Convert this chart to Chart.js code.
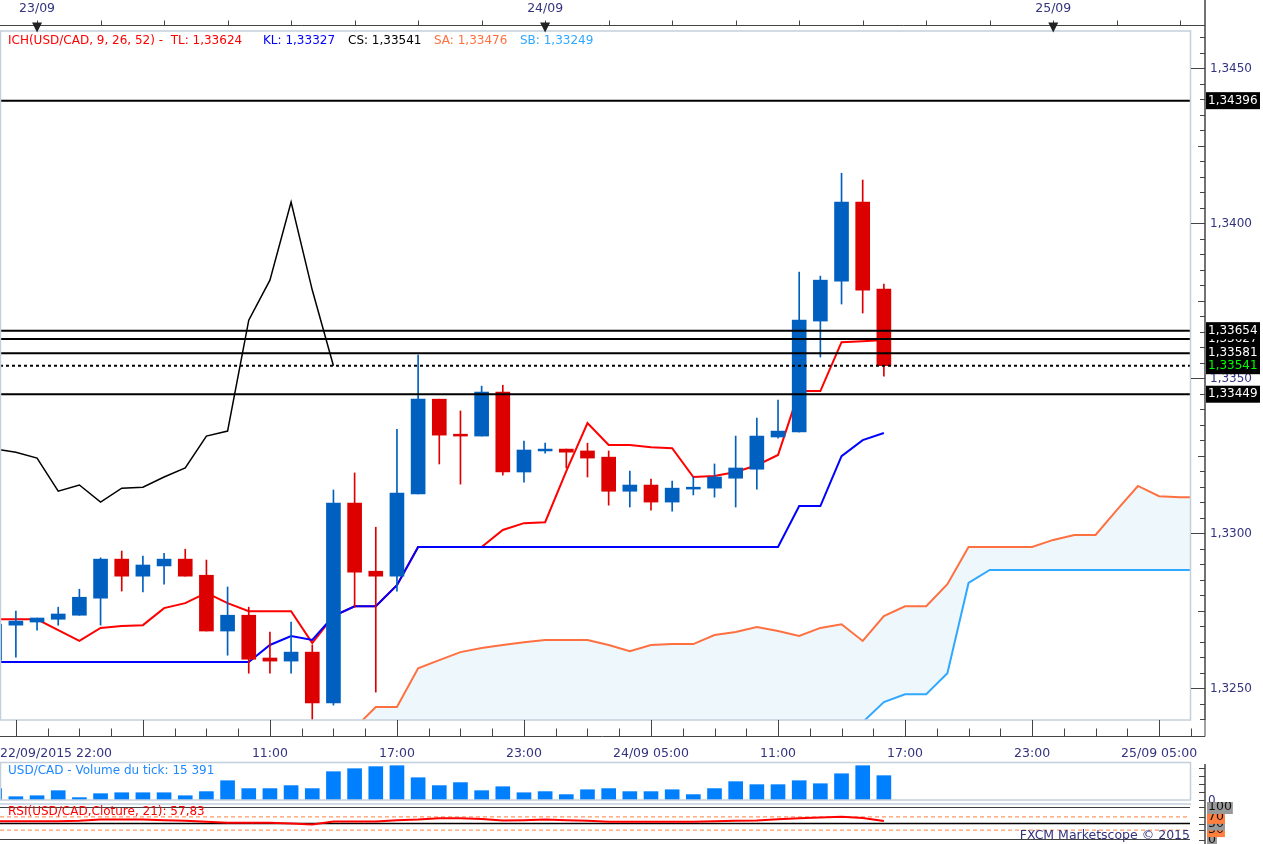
<!DOCTYPE html>
<html lang="fr">
<head>
<meta charset="UTF-8">
<title>ICH USD/CAD H1</title>
<style>
  body { margin: 0; background: #fff; width: 1263px; height: 844px; overflow: hidden; position: relative; }
  canvas { position: absolute; left: 0; }
  #main { top: 0; }
  #vol { top: 760px; }
  #rsi { top: 802px; }
</style>
</head>
<body>
<canvas id="main" width="1263" height="760"></canvas>
<canvas id="vol" width="1263" height="42"></canvas>
<canvas id="rsi" width="1263" height="42"></canvas>

<script src="https://cdn.jsdelivr.net/npm/chart.js"></script>
<script>
// USD/CAD hourly candles, 22/09/2015 22:00 -> 24/09/2015 16:00
const candleTimes = [
  '22/09 22:00', '22/09 23:00',
  '23/09 00:00', '23/09 01:00', '23/09 02:00', '23/09 03:00', '23/09 04:00', '23/09 05:00',
  '23/09 06:00', '23/09 07:00', '23/09 08:00', '23/09 09:00', '23/09 10:00', '23/09 11:00',
  '23/09 12:00', '23/09 13:00', '23/09 14:00', '23/09 15:00', '23/09 16:00', '23/09 17:00',
  '23/09 18:00', '23/09 19:00', '23/09 20:00', '23/09 21:00', '23/09 22:00', '23/09 23:00',
  '24/09 00:00', '24/09 01:00', '24/09 02:00', '24/09 03:00', '24/09 04:00', '24/09 05:00',
  '24/09 06:00', '24/09 07:00', '24/09 08:00', '24/09 09:00', '24/09 10:00', '24/09 11:00',
  '24/09 12:00', '24/09 13:00', '24/09 14:00', '24/09 15:00', '24/09 16:00'
];

const openP = [
  1.32591, 1.32704, 1.32714, 1.32723, 1.32736, 1.32791, 1.32917, 1.32862, 1.32895, 1.32917,
  1.32865, 1.32685, 1.32736, 1.32598, 1.32588, 1.32617, 1.32453, 1.33098, 1.32878, 1.32862,
  1.33127, 1.33433, 1.33320, 1.33314, 1.33456, 1.33198, 1.33266, 1.33272, 1.33266, 1.33246,
  1.33136, 1.33156, 1.33101, 1.33143, 1.33146, 1.33178, 1.33207, 1.33311, 1.33327, 1.33685,
  1.33814, 1.34069, 1.33788
];
const highP = [
  1.32720, 1.32749, 1.32727, 1.32762, 1.32820, 1.32921, 1.32943, 1.32927, 1.32936, 1.32949,
  1.32914, 1.32827, 1.32762, 1.32682, 1.32714, 1.32640, 1.33140, 1.33195, 1.33020, 1.33336,
  1.33575, 1.33433, 1.33395, 1.33475, 1.33478, 1.33298, 1.33291, 1.33272, 1.33291, 1.33266,
  1.33201, 1.33175, 1.33169, 1.33182, 1.33224, 1.33314, 1.33372, 1.33430, 1.33843, 1.33830,
  1.34162, 1.34140, 1.33804
];
const lowP = [
  1.32585, 1.32601, 1.32688, 1.32704, 1.32736, 1.32704, 1.32814, 1.32811, 1.32836, 1.32862,
  1.32685, 1.32607, 1.32549, 1.32549, 1.32549, 1.32395, 1.32446, 1.32762, 1.32488, 1.32814,
  1.33127, 1.33224, 1.33159, 1.33314, 1.33188, 1.33165, 1.33259, 1.33211, 1.33182, 1.33091,
  1.33085, 1.33075, 1.33072, 1.33124, 1.33117, 1.33085, 1.33143, 1.33307, 1.33327, 1.33569,
  1.33740, 1.33711, 1.33507
];
const closeP = [
  1.32707, 1.32717, 1.32727, 1.32740, 1.32794, 1.32917, 1.32862, 1.32898, 1.32917, 1.32862,
  1.32685, 1.32736, 1.32594, 1.32588, 1.32617, 1.32453, 1.33098, 1.32875, 1.32862, 1.33130,
  1.33433, 1.33317, 1.33314, 1.33456, 1.33198, 1.33269, 1.33272, 1.33262, 1.33243, 1.33136,
  1.33156, 1.33101, 1.33146, 1.33149, 1.33182, 1.33211, 1.33314, 1.33330, 1.33688, 1.33817,
  1.34069, 1.33785, 1.33541
];
const volume = [
  7150, 2100, 2700, 5900, 1500, 4000, 4600, 4600, 4600, 2700,
  5300, 12200, 7200, 7200, 9100, 7200, 17900, 19800, 21100, 21700,
  14100, 9100, 11000, 5900, 8400, 4600, 5300, 3400, 6500, 7200,
  5300, 5300, 6500, 3400, 7200, 11600, 9700, 9700, 12200, 10300,
  16600, 21700, 15391
];
const rsi = [
  57, 57, 57, 57, 58, 62, 62, 62, 60, 58,
  55, 52, 52, 52, 50, 47, 56, 56, 56, 60,
  62, 66, 66, 64, 59, 60, 62, 60, 58, 55.5,
  55.5, 55.5, 55.5, 55.5, 57, 58.5, 59, 62.6, 66, 68,
  70.6, 67, 57.83
];

// Ichimoku (9, 26, 52)
const tenkan = [
  1.32723, 1.32723, 1.32723, 1.32688, 1.32653, 1.32695, 1.32701, 1.32704, 1.32759, 1.32775,
  1.32808, 1.32775, 1.32749, 1.32749, 1.32749, 1.32646, 1.32733, 1.32765, 1.32765, 1.32833,
  1.32956, 1.32956, 1.32956, 1.32956, 1.33011, 1.33033, 1.33036, 1.33201, 1.33356, 1.33285,
  1.33285, 1.33278, 1.33275, 1.33182, 1.33185, 1.33198, 1.33220, 1.33253, 1.33459, 1.33459,
  1.33617, 1.33620, 1.33624
];
const kijun = [
  1.32585, 1.32585, 1.32585, 1.32585, 1.32585, 1.32585, 1.32585, 1.32585, 1.32585, 1.32585,
  1.32585, 1.32585, 1.32585, 1.32640, 1.32669, 1.32656, 1.32733, 1.32765, 1.32765, 1.32833,
  1.32956, 1.32956, 1.32956, 1.32956, 1.32956, 1.32956, 1.32956, 1.32956, 1.32956, 1.32956,
  1.32956, 1.32956, 1.32956, 1.32956, 1.32956, 1.32956, 1.32956, 1.32956, 1.33088, 1.33088,
  1.33249, 1.33301, 1.33324
];
// chikou span, starts at the first candle slot
const chikou = [
  1.33272, 1.33262, 1.33243, 1.33136, 1.33156, 1.33101, 1.33146, 1.33149, 1.33182, 1.33211,
  1.33314, 1.33330, 1.33688, 1.33817, 1.34069, 1.33785, 1.33541
];
// senkou spans, start at candle slot 17 and run 26 slots past the last candle
const CLOUD_START = 17;
const senkouA = [
  1.32372, 1.32440, 1.32440, 1.32565, 1.32591, 1.32617, 1.32630, 1.32640, 1.32649, 1.32656,
  1.32656, 1.32656, 1.32640, 1.32620, 1.32640, 1.32643, 1.32643, 1.32672, 1.32682, 1.32698,
  1.32685, 1.32669, 1.32695, 1.32707, 1.32653, 1.32733, 1.32765, 1.32765, 1.32836, 1.32956,
  1.32956, 1.32956, 1.32956, 1.32979, 1.32995, 1.32995, 1.33075, 1.33153, 1.33120, 1.33117,
  1.33117
];
const senkouB = [
  1.32314, 1.32314, 1.32314, 1.32314, 1.32314, 1.32314, 1.32314, 1.32314, 1.32314, 1.32314,
  1.32314, 1.32314, 1.32314, 1.32314, 1.32314, 1.32314, 1.32314, 1.32314, 1.32314, 1.32314,
  1.32314, 1.32314, 1.32314, 1.32343, 1.32391, 1.32456, 1.32481, 1.32481, 1.32549, 1.32840,
  1.32882, 1.32882, 1.32882, 1.32882, 1.32882, 1.32882, 1.32882, 1.32882, 1.32882, 1.32882,
  1.32882
];

const levels = [1.34396, 1.33627, 1.33654, 1.33581, 1.33449];
const lastPrice = 1.33541;
const rsiLevels = [100, 70, 50, 30, 0];

const legendParts = [
  { text: 'ICH(USD/CAD, 9, 26, 52) -  TL: 1,33624', color: '#ff0000', x: 8 },
  { text: 'KL: 1,33327', color: '#0000ff', x: 263 },
  { text: 'CS: 1,33541', color: '#000000', x: 348 },
  { text: 'SA: 1,33476', color: '#ff7040', x: 434 },
  { text: 'SB: 1,33249', color: '#30a8ff', x: 520 }
];
const volTitle = 'USD/CAD - Volume du tick: 15 391';
const rsiTitle = 'RSI(USD/CAD,Cloture, 21): 57,83';

const timeLabels = ['22/09/2015 22:00', '11:00', '17:00', '23:00', '24/09 05:00', '11:00', '17:00', '23:00', '25/09 05:00'];
const timeLabelSlots = [0, 13, 19, 25, 31, 37, 43, 49, 55];
const dayLabels = ['23/09', '24/09', '25/09'];
const dayLabelSlots = [2, 26, 50];

// ---- look ----
const X_MIN = 0.25, X_MAX = 56.46;
const P_MIN = 1.32398, P_MAX = 1.34624;
const VOL_MAX = 23400;
const FONT = "'DejaVu Sans', sans-serif";
const BLUE = '#0060c0', RED = '#dd0000', ORANGE = '#ff7040', SKY = '#30a8ff';
const CLOUD = '#eef7fc', VOL = '#0080ff', PANEL = '#c3d0dc', LABEL = '#33337f';
const AXIS_X = 1205;

function xScale() {
  return { type: 'linear', min: X_MIN, max: X_MAX, display: false, offset: false };
}
function baseOptions(padding, yOpts) {
  return {
    responsive: false,
    animation: false,
    events: [],
    layout: { padding },
    scales: { x: xScale(), y: Object.assign({ type: 'linear', display: false, beginAtZero: false }, yOpts) },
    plugins: { legend: { display: false }, tooltip: { enabled: false } }
  };
}
const pts = (arr, start) => arr.map((v, i) => ({ x: start + i, y: v }));
const flat = v => [{ x: X_MIN, y: v }, { x: X_MAX, y: v }];
function lineDs(data, color, width, order, extra) {
  return Object.assign({
    type: 'line', data, borderColor: color, borderWidth: width,
    pointRadius: 0, tension: 0, fill: false, order
  }, extra || {});
}
function label(ctx, str, x, y, color, align, size) {
  ctx.font = (size || 12) + 'px ' + FONT;
  ctx.fillStyle = color;
  ctx.textAlign = align || 'left';
  ctx.textBaseline = 'middle';
  ctx.fillText(str, x, y);
}
function line(ctx, x1, y1, x2, y2) {
  ctx.beginPath();
  ctx.moveTo(x1, y1);
  ctx.lineTo(x2, y2);
  ctx.stroke();
}
const fmt = (v, d) => v.toFixed(d).replace('.', ',');

const candleCol = closeP.map((c, i) => c >= openP[i] ? BLUE : RED);

// ---- main panel decorations: time axes, price axis, tags, legend ----
const mainDecor = {
  id: 'mainDecor',
  afterDraw(chart) {
    const ctx = chart.ctx, xs = chart.scales.x, ys = chart.scales.y, a = chart.chartArea;
    ctx.save();

    ctx.strokeStyle = PANEL;
    ctx.lineWidth = 1.5;
    ctx.strokeRect(a.left + 0.5, a.top + 1, a.right - a.left, a.bottom - a.top - 1);

    // top time axis
    ctx.strokeStyle = '#444';
    ctx.lineWidth = 1;
    const topY = 25.5;
    line(ctx, 0, topY, AXIS_X, topY);
    for (let s = 2; xs.getPixelForValue(s) <= AXIS_X; s += 3) {
      const x = Math.round(xs.getPixelForValue(s)) + 0.5;
      line(ctx, x, topY - 5, x, topY);
    }
    dayLabelSlots.forEach((s, i) => {
      const x = xs.getPixelForValue(s);
      ctx.fillStyle = '#222';
      ctx.beginPath();
      ctx.moveTo(x - 5, topY - 3);
      ctx.lineTo(x + 5, topY - 3);
      ctx.lineTo(x, topY + 7);
      ctx.closePath();
      ctx.fill();
      label(ctx, dayLabels[i], x, 9, LABEL, 'center', 12.5);
    });

    // bottom time axis
    const botY = 736.5;
    ctx.strokeStyle = '#444';
    line(ctx, 0, botY, AXIS_X, botY);
    line(ctx, AXIS_X, a.bottom, AXIS_X, botY);
    for (let n = 0; ; n++) {
      const s = 1 + 1.5 * n;
      const x = xs.getPixelForValue(s);
      if (x > AXIS_X) break;
      const px = Math.round(x) + 0.5;
      const major = n % 4 === 0;
      line(ctx, px, major ? a.bottom : botY - 8, px, botY);
    }
    timeLabels.forEach((t, i) => {
      if (i === 0) label(ctx, t, a.left, 754, LABEL, 'left', 12.5);
      else label(ctx, t, xs.getPixelForValue(timeLabelSlots[i]), 754, LABEL, 'center', 12.5);
    });

    // right price axis
    ctx.strokeStyle = '#444';
    ctx.lineWidth = 1.5;
    line(ctx, AXIS_X, 0, AXIS_X, a.bottom);
    ctx.lineWidth = 1;
    for (let t = 2648; t <= 2692; t++) {
      const p = t * 0.0005;
      const y = ys.getPixelForValue(p);
      if (y < a.top || y > a.bottom) continue;
      const len = t % 10 === 0 ? 14 : (t % 5 === 0 ? 7 : 5);
      const py = Math.round(y) + 0.5;
      line(ctx, AXIS_X - len, py, AXIS_X, py);
      if (t % 10 === 0) label(ctx, fmt(p, 4), 1210, y, LABEL, 'left', 12);
    }

    // level tags
    const tag = (v, color) => {
      const y = ys.getPixelForValue(v);
      ctx.fillStyle = '#000';
      ctx.fillRect(AXIS_X + 1, y - 8.5, 54, 17);
      label(ctx, fmt(v, 5), AXIS_X + 3, y, color, 'left', 12);
    };
    levels.forEach(v => tag(v, '#ffffff'));
    tag(lastPrice, '#00ff00');

    // legend line
    legendParts.forEach(p => label(ctx, p.text, p.x, 41, p.color, 'left', 12));
    ctx.restore();
  }
};

new Chart(document.getElementById('main'), {
  type: 'bar',
  data: {
    datasets: [
      ...levels.map(v => lineDs(flat(v), '#000', 2, 0)),
      lineDs(flat(lastPrice), '#000', 2, 0, { borderDash: [3, 3] }),
      {
        type: 'bar', order: 1, grouped: false,
        data: openP.map((o, i) => ({ x: i, y: [o, closeP[i]] })),
        backgroundColor: candleCol, borderWidth: 0, barThickness: 14, minBarLength: 1
      },
      {
        type: 'bar', order: 2, grouped: false,
        data: lowP.map((l, i) => ({ x: i, y: [l, highP[i]] })),
        backgroundColor: candleCol, borderWidth: 0, barThickness: 1
      },
      lineDs(pts(chikou, 0), '#000', 1.5, 3),
      lineDs(pts(kijun, 0), '#0000ff', 2, 4),
      lineDs(pts(tenkan, 0), '#ff0000', 2, 5),
      lineDs(pts(senkouA, CLOUD_START), ORANGE, 2, 7, { fill: '+1', backgroundColor: CLOUD }),
      lineDs(pts(senkouB, CLOUD_START), SKY, 2, 6)
    ]
  },
  options: baseOptions({ left: 0, right: 73, top: 30, bottom: 40 }, { min: P_MIN, max: P_MAX }),
  plugins: [mainDecor]
});

// ---- volume panel ----
const volDecor = {
  id: 'volDecor',
  afterDraw(chart) {
    const ctx = chart.ctx, ys = chart.scales.y, a = chart.chartArea;
    ctx.save();
    ctx.strokeStyle = PANEL;
    ctx.lineWidth = 1.5;
    ctx.strokeRect(a.left + 0.5, 2.5, a.right - a.left, a.bottom - 2.5);
    label(ctx, volTitle, 8, 11, '#1e88ff', 'left', 12);
    ctx.strokeStyle = '#444';
    ctx.lineWidth = 1.5;
    line(ctx, AXIS_X, 4, AXIS_X, 42);
    ctx.lineWidth = 1;
    for (let v = 0; v <= 20000; v += 5000) {
      const py = Math.round(ys.getPixelForValue(v)) + 0.5;
      line(ctx, AXIS_X - 6, py, AXIS_X, py);
    }
    label(ctx, '0', AXIS_X + 3, a.bottom + 1, LABEL, 'left', 12);
    ctx.restore();
  }
};

new Chart(document.getElementById('vol'), {
  type: 'bar',
  data: {
    datasets: [{
      data: volume.map((v, i) => ({ x: i, y: v })),
      backgroundColor: VOL, borderWidth: 0, barThickness: 14, grouped: false
    }]
  },
  options: baseOptions({ left: 0, right: 73, top: 3, bottom: 2 }, { min: 0, max: VOL_MAX }),
  plugins: [volDecor]
});

// ---- RSI panel ----
const rsiDecor = {
  id: 'rsiDecor',
  afterDraw(chart) {
    const ctx = chart.ctx, ys = chart.scales.y, a = chart.chartArea;
    ctx.save();
    ctx.strokeStyle = PANEL;
    ctx.lineWidth = 1.5;
    line(ctx, a.left, 2, a.right + 1, 2);
    label(ctx, rsiTitle, 8, 10, '#ff0000', 'left', 12);
    ctx.strokeStyle = '#444';
    line(ctx, AXIS_X, 0, AXIS_X, 42);
    ctx.lineWidth = 1;
    rsiLevels.forEach(v => {
      const py = Math.round(ys.getPixelForValue(v)) + 0.5;
      line(ctx, AXIS_X - 6, py, AXIS_X, py);
    });
    label(ctx, 'FXCM Marketscope \u00a9 2015', a.right, 34, LABEL, 'right', 12.5);
    rsiLevels.slice().reverse().forEach(v => {
      const y = ys.getPixelForValue(v);
      const str = String(v);
      ctx.font = '12.5px ' + FONT;
      const w = ctx.measureText(str).width + 2;
      ctx.fillStyle = (v === 70 || v === 30) ? '#ff7f3f' : '#999999';
      ctx.fillRect(AXIS_X + 2, y - 7, w, 14);
      label(ctx, str, AXIS_X + 3, y, '#111', 'left', 12.5);
    });
    ctx.restore();
  }
};

new Chart(document.getElementById('rsi'), {
  type: 'line',
  data: {
    datasets: [
      ...rsiLevels.map(v => (v === 70 || v === 30)
        ? lineDs(flat(v), '#ff7f3f', 1, 1, { borderDash: [4, 3] })
        : lineDs(flat(v), '#000', 1.5, 1)),
      lineDs(pts(rsi, 0), '#ff0000', 2, 0)
    ]
  },
  options: baseOptions({ left: 0, right: 73, top: 5, bottom: 4 }, { min: 0, max: 100 }),
  plugins: [rsiDecor]
});
</script>
</body>
</html>
